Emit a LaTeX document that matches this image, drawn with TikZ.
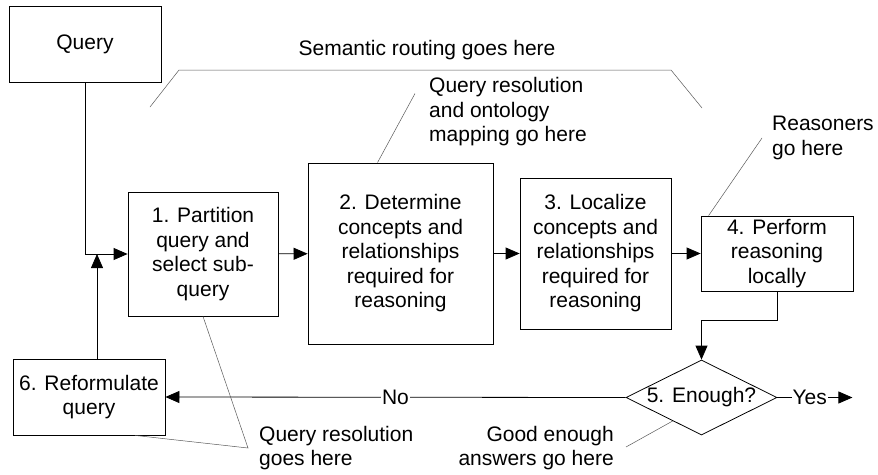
\documentclass[tikz,border=0pt]{standalone}
\usepackage{fontspec}
\setmainfont{Liberation Sans}
\usetikzlibrary{arrows.meta}
\usetikzlibrary{shapes.geometric}
\usetikzlibrary{calc}

\begin{document}
\begin{tikzpicture}[x=1pt, y=-1pt, font=\fontsize{21}{24.5}\selectfont,
        box/.style={draw, line width=0.8pt, align=center, inner sep=0pt},
        note/.style={align=left, inner sep=0pt},
        link/.style={line width=0.8pt, -{Triangle[length=14pt,width=12pt]}},
        callout/.style={draw=black!65, line width=0.5pt}]

        \useasboundingbox (0,0) rectangle (878,474);

        % boxes of the flow
        \node [box, minimum width=152pt, minimum height=76pt] (query) at (85,44) {Query};
        \node [box, minimum width=150pt, minimum height=124pt] (partition) at (203,254) {1. Partition\\query and\\select sub-\\query};
        \node [box, minimum width=185pt, minimum height=181pt] (determine) at (400.5,253.5) {2. Determine\\concepts and\\relationships\\required for\\reasoning};
        \node [box, minimum width=151pt, minimum height=151pt] (localize) at (595.5,253.5) {3. Localize\\concepts and\\relationships\\required for\\reasoning};
        \node [box, minimum width=152pt, minimum height=75pt] (perform) at (777,253.5) {4. Perform\\reasoning\\locally};
        \node [box, diamond, aspect=2, minimum width=151pt, minimum height=75pt] (enough) at (701.5,397.5) {5. Enough?};
        \node [box, minimum width=152pt, minimum height=76pt] (reform) at (89,397) {6. Reformulate\\query};

        % notes
        \node (routing) at (427,50) {Semantic routing goes here};
        \node [note, anchor=west] (mapping) at (429,112) {Query resolution\\and ontology\\mapping go here};
        \node [note, anchor=west] (reasoners) at (772,138) {Reasoners\\go here};
        \node [note, anchor=west] (resolution) at (259,448) {Query resolution\\goes here};
        \node [note, anchor=east, align=right] (answers) at (614,448) {Good enough\\answers go here};

        % flow
        \draw[link] (query.south) |- (partition.west);
        \draw[link] (partition) -- (determine);
        \draw[link] (determine) -- (localize);
        \draw[link] (localize) -- (perform);
        \draw[link] (perform.south) -- ++(0,29) -| (enough.north);
        \draw[link] (enough.west) -- node[fill=white, inner sep=1pt] {No} (reform.east);
        \draw[link] (enough.east) -- node[pos=0.43, fill=white, inner sep=1pt] {Yes} ++(75,0);
        \draw[link] ([xshift=8pt]reform.north) -- ([xshift=8pt]reform.north |- partition.west);

        % callouts
        \draw[callout] (150,107) -- (179,70) -- (671,70) -- (702,108);
        \draw[callout] ([xshift=-14pt,yshift=-16pt]mapping.north west) -- ([xshift=-23pt]determine.north);
        \draw[callout] ([xshift=-10pt]reasoners.west) -- ([xshift=8pt]perform.north west);
        \draw[callout] (partition.south) -- ([xshift=-11pt]resolution.west) -- ([xshift=46pt]reform.south);
        \draw[callout] ([xshift=12pt,yshift=1pt]answers.east) -- ($(enough.west)!0.62!(enough.south)$);

\end{tikzpicture}
\end{document}
